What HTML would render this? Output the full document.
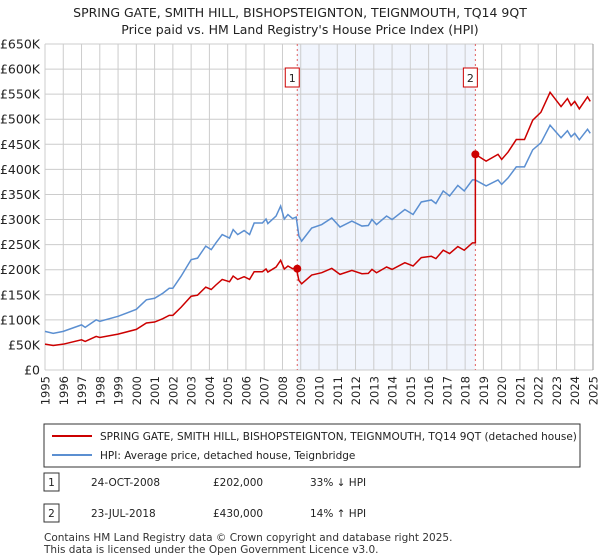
<!DOCTYPE html>
<html><head><meta charset="utf-8"><style>
body{margin:0;background:#fff;font-family:"Liberation Sans","DejaVu Sans",sans-serif;}
#wrap{position:relative;width:600px;height:560px;overflow:hidden}
svg text{font-family:"DejaVu Sans","Liberation Sans",sans-serif}
</style></head><body><div id="wrap">
<svg id="chart" width="600" height="560"></svg>
</div>
<script>
const hpiYears=[1995,1995.45,1996,1997,1997.2,1997.8,1998,1999,2000,2000.55,2001,2001.45,2001.8,2002,2002.45,2003,2003.35,2003.8,2004.1,2004.35,2004.7,2005.1,2005.3,2005.55,2005.9,2006.2,2006.45,2006.9,2007.1,2007.2,2007.65,2007.9,2008.1,2008.3,2008.55,2008.75,2008.9,2009.05,2009.6,2010.15,2010.7,2011.15,2011.8,2012.35,2012.7,2012.9,2013.15,2013.7,2014,2014.7,2015.15,2015.6,2016.15,2016.4,2016.8,2017.15,2017.6,2017.95,2018.4,2018.55,2019.15,2019.8,2020,2020.35,2020.8,2021.25,2021.7,2022.15,2022.65,2023.25,2023.6,2023.8,2024,2024.25,2024.7,2024.85];
const hpiValues=[77,73,77,90,85,100,97,107,121,140,143,153,163,163,187,220,223,247,240,253,270,263,280,270,278,270,293,293,301,292,307,327,301,310,302,305,267,257,283,290,303,285,297,287,288,300,290,307,300,320,310,335,339,332,357,347,368,357,379,379,367,379,370,383,405,405,439,453,488,463,477,465,472,459,480,472];
const saleYears=[2008.81,2018.56];
const salePrices=[202000,430000];
const saleHpiRef=[302,379];
const yTicks=[0,50,100,150,200,250,300,350,400,450,500,550,600,650];
const xTicks=[1995,1996,1997,1998,1999,2000,2001,2002,2003,2004,2005,2006,2007,2008,2009,2010,2011,2012,2013,2014,2015,2016,2017,2018,2019,2020,2021,2022,2023,2024,2025];

const NS="http://www.w3.org/2000/svg";
const svg=document.getElementById('chart');
const X0=45,X1=593,Y0=370,Y1=44;
const xs=y=>X0+(y-1995)/30*(X1-X0);
const ys=v=>Y0-v/650*(Y0-Y1);
function el(tag,attrs,name,parent){const e=document.createElementNS(NS,tag);for(const k in attrs)e.setAttribute(k,attrs[k]);


(parent||svg).appendChild(e);return e;}
function txt(s,attrs,name){const t=el('text',attrs,name);t.textContent=s;return t;}

txt('SPRING GATE, SMITH HILL, BISHOPSTEIGNTON, TEIGNMOUTH, TQ14 9QT',{x:300,y:17,'text-anchor':'middle','font-size':12.5,fill:'#222'},'chart-title');
txt("Price paid vs. HM Land Registry's House Price Index (HPI)",{x:300,y:34,'text-anchor':'middle','font-size':12.5,fill:'#222'},'chart-subtitle');

el('rect',{x:xs(saleYears[0]),y:Y1,width:xs(saleYears[1])-xs(saleYears[0]),height:Y0-Y1,fill:'#eef3fd',opacity:0.8},'shaded-ownership-period');
yTicks.forEach(t=>{el('line',{x1:X0,x2:X1,y1:ys(t),y2:ys(t),stroke:'#ccc','stroke-width':1},'y-gridline');
 txt(t===0?'£0':'£'+t+'K',{x:40,y:ys(t)+4.5,'text-anchor':'end','font-size':12.5,fill:'#222'},'y-tick-label');});
xTicks.forEach(t=>{el('line',{x1:xs(t),x2:xs(t),y1:Y1,y2:Y0,stroke:'#ccc','stroke-width':1},'x-gridline');
 const px=xs(t)+4.5;
 txt(String(t),{x:px,y:376,'text-anchor':'end','font-size':11.5,fill:'#222',transform:'rotate(-90 '+px+' 376)'},'x-tick-label');});
el('line',{x1:X1,x2:X1,y1:Y1,y2:Y0,stroke:'#999','stroke-width':1},'right-edge');

saleYears.forEach((s,i)=>{el('line',{x1:xs(s),x2:xs(s),y1:Y1,y2:Y0,stroke:'#e06060','stroke-width':1,'stroke-dasharray':'2,3'},'sale-marker-line');
 el('rect',{x:xs(s)-12,y:68,width:14,height:19,fill:'#fff',stroke:'#cc0000','stroke-width':1},'sale-marker-box');
 txt(String(i+1),{x:xs(s)-5,y:82,'text-anchor':'middle','font-size':11,fill:'#222'},'sale-marker-number');});

el('polyline',{points:hpiYears.map((y,i)=>xs(y)+','+ys(hpiValues[i])).join(' '),fill:'none',stroke:'#5b8fd1','stroke-width':1.5},'hpi-line');
const redPts=[];
hpiYears.forEach((y,i)=>{const k=y<saleYears[1]?0:1;redPts.push([y,hpiValues[i]*salePrices[k]/1000/saleHpiRef[k]]);
 if(i+1<hpiYears.length&&y<saleYears[1]&&hpiYears[i+1]>=saleYears[1]){redPts.push([saleYears[1],hpiValues[i]*salePrices[0]/1000/saleHpiRef[0]]);redPts.push([saleYears[1],salePrices[1]/1000]);}});
el('polyline',{points:redPts.map(p=>xs(p[0])+','+ys(p[1])).join(' '),fill:'none',stroke:'#cc0000','stroke-width':1.5},'price-paid-line');
saleYears.forEach((s,i)=>el('circle',{cx:xs(s),cy:ys(salePrices[i]/1000),r:4,fill:'#cc0000'},'sale-point'));

el('rect',{x:44,y:424,width:536,height:43,fill:'#fff',stroke:'#333','stroke-width':1},'legend');
el('line',{x1:52,x2:92,y1:436,y2:436,stroke:'#cc0000','stroke-width':2},'legend-swatch-price');
txt('SPRING GATE, SMITH HILL, BISHOPSTEIGNTON, TEIGNMOUTH, TQ14 9QT (detached house)',{x:100,y:440,'font-size':10.5,fill:'#222'},'legend-entry-price');
el('line',{x1:52,x2:92,y1:455,y2:455,stroke:'#5b8fd1','stroke-width':2},'legend-swatch-hpi');
txt('HPI: Average price, detached house, Teignbridge',{x:100,y:459,'font-size':10.5,fill:'#222'},'legend-entry-hpi');

[['1','24-OCT-2008','£202,000','33% ↓ HPI',482],['2','23-JUL-2018','£430,000','14% ↑ HPI',513]].forEach(r=>{
 el('rect',{x:44,y:r[4]-9,width:15,height:18,fill:'#fff',stroke:'#333'},'table-row-marker');
 txt(r[0],{x:51.5,y:r[4]+4,'text-anchor':'middle','font-size':10.5,fill:'#222'},'table-row-number');
 txt(r[1],{x:91,y:r[4]+4,'font-size':10.5,fill:'#222'},'table-row-date');
 txt(r[2],{x:213,y:r[4]+4,'font-size':10.5,fill:'#222'},'table-row-price');
 txt(r[3],{x:310,y:r[4]+4,'font-size':10.5,fill:'#222'},'table-row-hpi-diff');});
txt('Contains HM Land Registry data © Crown copyright and database right 2025.',{x:44,y:541,'font-size':10.5,fill:'#333'},'footer-line-1');
txt('This data is licensed under the Open Government Licence v3.0.',{x:44,y:553,'font-size':10.5,fill:'#333'},'footer-line-2');
</script></body></html>
